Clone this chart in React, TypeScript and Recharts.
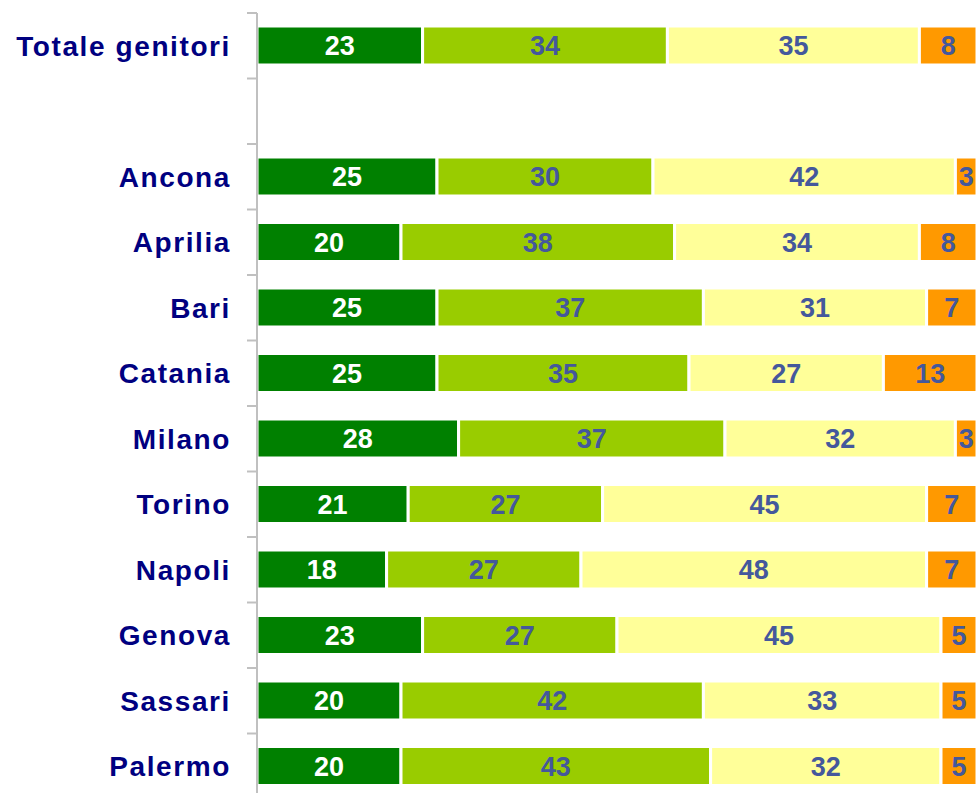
import { BarChart, Bar, XAxis, YAxis, LabelList } from 'recharts';

const categories = [
  'Totale genitori',
  '',
  'Ancona',
  'Aprilia',
  'Bari',
  'Catania',
  'Milano',
  'Torino',
  'Napoli',
  'Genova',
  'Sassari',
  'Palermo'
];
const molto = [23, null, 25, 20, 25, 25, 28, 21, 18, 23, 20, 20];
const abbastanza = [34, null, 30, 38, 37, 35, 37, 27, 27, 27, 42, 43];
const poco = [35, null, 42, 34, 31, 27, 32, 45, 48, 45, 33, 32];
const perNiente = [8, null, 3, 8, 7, 13, 3, 7, 7, 5, 5, 5];

const data = categories.map((name, i) => ({
  name,
  molto: molto[i],
  abbastanza: abbastanza[i],
  poco: poco[i],
  perNiente: perNiente[i]
}));

const WIDTH = 978;
const HEIGHT = 805;
const MARGIN = { top: 13, right: 1, bottom: 6, left: 0 };
const AXIS_W = 257;
const BAND = (HEIGHT - MARGIN.top - MARGIN.bottom) / categories.length;
const FONT = '"Liberation Sans", Arial, sans-serif';
const LABEL_BLUE = '#44589c';

const CategoryTick = ({ x, y, payload, index }: any) => {
  const top = y - BAND / 2;
  return (
    <g>
      <text
        x={x}
        y={y}
        dy="0.36em"
        textAnchor="end"
        fill="#000080"
        fontFamily={FONT}
        fontWeight="bold"
        fontSize={28}
        letterSpacing={1.6}
      >
        {payload.value}
      </text>
      <line x1={AXIS_W - 10} x2={AXIS_W} y1={top} y2={top} stroke="#c0c0c0" strokeWidth={2} />
      {index === categories.length - 1 && (
        <line x1={AXIS_W - 10} x2={AXIS_W} y1={top + BAND} y2={top + BAND} stroke="#c0c0c0" strokeWidth={2} />
      )}
    </g>
  );
};

const fmt = (v: any) => (v == null ? '' : v);

const series = [
  { key: 'molto', fill: '#008000', text: '#ffffff' },
  { key: 'abbastanza', fill: '#99cc00', text: LABEL_BLUE },
  { key: 'poco', fill: '#ffff99', text: LABEL_BLUE },
  { key: 'perNiente', fill: '#ff9900', text: LABEL_BLUE }
];

export default function App() {
  return (
    <div
      style={{
        position: 'fixed',
        top: 0,
        left: 0,
        width: 978,
        height: 793,
        overflow: 'hidden',
        background: '#fff'
      }}
    >
      <BarChart width={WIDTH} height={HEIGHT} data={data} layout="vertical" margin={MARGIN}>
        <XAxis type="number" domain={[0, 100]} hide />
        <YAxis
          type="category"
          dataKey="name"
          width={AXIS_W}
          axisLine={{ stroke: '#c0c0c0', strokeWidth: 2 }}
          tickLine={false}
          tickSize={0}
          tickMargin={26}
          interval={0}
          tick={<CategoryTick />}
        />
        {series.map((s) => (
          <Bar
            key={s.key}
            dataKey={s.key}
            stackId="a"
            fill={s.fill}
            stroke="#ffffff"
            strokeWidth={3}
            barSize={39}
            isAnimationActive={false}
          >
            <LabelList
              dataKey={s.key}
              position="center"
              formatter={fmt}
              fill={s.text}
              fontFamily={FONT}
              fontWeight="bold"
              fontSize={27}
            />
          </Bar>
        ))}
      </BarChart>
    </div>
  );
}
